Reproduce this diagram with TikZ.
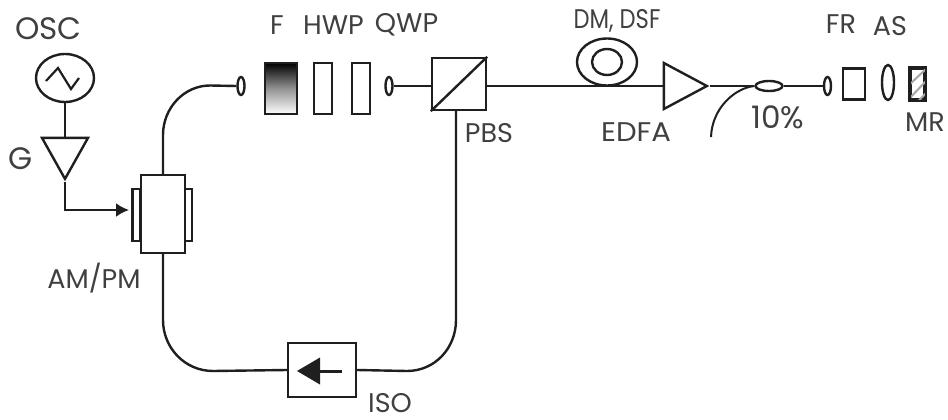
\documentclass[tikz,border=0pt]{standalone}
\usepackage{fontspec}
\usepackage{graphicx}
\setmainfont{Poppins}
\usetikzlibrary{shapes.geometric,arrows.meta}
\definecolor{ink}{gray}{0.12}
\definecolor{txt}{gray}{0.25}
\tikzset{
  x=1pt,y=-1pt,
  fibre/.style={draw=ink,line width=2.4pt},
  thinfibre/.style={draw=ink,line width=2pt},
  box/.style={draw=ink,rectangle,inner sep=0pt,line width=2.4pt,fill=white},
  oval/.style={draw=ink,ellipse,inner sep=0pt,line width=2.4pt,fill=white},
  endcap/.style={oval,minimum width=7pt,minimum height=18pt},
  amp/.style={draw=ink,isosceles triangle,isosceles triangle stretches,inner sep=0pt,line width=2.4pt},
  lab/.style={text=txt,font=\fontsize{27}{30}\selectfont,inner sep=0pt},
  biglab/.style={text=txt,font=\fontsize{31}{33}\selectfont,inner sep=0pt},
  tip/.style={-{Latex[length=13pt,width=14pt]}},
}
\begin{document}
\begin{tikzpicture}
\useasboundingbox[fill=white] (0,0) rectangle (948,420);
% named free points
\coordinate (aminput) at (129,210);
\coordinate (tapend) at (711,137);
\coordinate (amup) at (163,135);
\coordinate (amupb) at (210,85.5);
\coordinate (amdown) at (163,320);
\coordinate (isol) at (213,371);
\coordinate (isor) at (407,371);
\coordinate (pbsdown) at (456,320);
\coordinate (pbsfoot) at (456,110);
% nodes
\node[oval,minimum width=58pt,minimum height=48pt] (osc) at (65,78) {};
\node[amp,minimum width=46pt,minimum height=41pt,shape border rotate=-90,anchor=apex] (g) at (65,182) {};
\node[box,minimum width=8pt,minimum height=52pt] (plateL) at (136.5,215) {};
\node[box,minimum width=8pt,minimum height=52pt] (plateR) at (188,215) {};
\node[box,minimum width=44pt,minimum height=78pt] (am) at (163,214) {};
\node[endcap] (c1) at (241,86) {};
\node[box,minimum width=32pt,minimum height=51pt,top color=black,bottom color=white,middle color=gray!85] (f) at (281,88.5) {};
\node[box,minimum width=18pt,minimum height=51pt] (hwp) at (323,88.5) {};
\node[box,minimum width=18pt,minimum height=51pt] (qwp) at (361,88.5) {};
\node[endcap] (c2) at (389,86) {};
\node[box,minimum width=54pt,minimum height=52pt] (pbs) at (459,84) {};
\node[box,minimum width=68pt,minimum height=54pt] (iso) at (322,370) {};
\node[oval,minimum width=60pt,minimum height=47pt] (coil) at (607,62) {};
\node[oval,minimum width=30pt,minimum height=26pt] (coilin) at (607,62) {};
\node[amp,minimum width=46pt,minimum height=43pt,anchor=apex] (edfa) at (710,86) {};
\node[oval,minimum width=27pt,minimum height=10pt] (coup) at (769,86) {};
\node[endcap] (c3) at (827.5,86) {};
\node[box,minimum width=22pt,minimum height=31pt] (fr) at (854,84) {};
\node[oval,minimum width=12pt,minimum height=35pt] (as) at (888,82.5) {};
\node[box,minimum width=14pt,minimum height=31pt] (mr) at (917.5,84) {};
% connectors
\draw[fibre] (osc.south) -- (osc.south |- g.north);
\draw[fibre,tip] (g.apex) |- (aminput);
\draw[fibre] (am.north) -- (amup) .. controls (163,108) and (184,85.5) .. (amupb) -- (c1.west);
\draw[fibre] (am.south) -- (amdown) .. controls (163,348) and (185,371) .. (isol) -- (iso.west);
\draw[fibre] (iso.east) -- (isor) .. controls (435,371) and (456,348) .. (pbsdown) -- (pbsfoot);
\draw[fibre] (c2.east) -- (pbs.west |- c2.east);
\draw[fibre] (pbs.east |- c2.east) -- (edfa.west |- edfa.apex);
\draw[fibre] (edfa.apex) -- (coup.west);
\draw[fibre] (coup.east) -- (c3.west);
\draw[thinfibre] (coup.west) .. controls (735,88) and (712,108) .. (tapend);
% details inside the symbols
\draw[line width=2.2pt,draw=ink] (46,81) -- (58,68) -- (71,89) -- (79,78);
\draw[line width=2.4pt,draw=ink] (pbs.south west) -- (pbs.north east);
\begin{scope}
\clip (mr.south west) rectangle (mr.north east);
\draw[line width=2pt,draw=gray!70] (908,86) -- (927,68) (908,100) -- (927,80) (908,112) -- (927,92);
\end{scope}
\draw[draw=ink,line width=2.4pt] (mr.south west) rectangle (mr.north east);
\fill[ink] (297,371) -- (320,357.5) -- (320,384.5) -- cycle;
\draw[line width=3pt,draw=ink] (318,371) -- (342,371);
% labels
\node[biglab] (tosc) at (48.5,29) {OSC};
\node[biglab] (tg) at (21,159) {G};
\node[lab] (tam) at (94,278) {AM/PM};
\node[lab] (tf) at (277,25) {F};
\node[lab] (thwp) at (333.5,25) {HWP};
\node[lab] (tqwp) at (406.5,25) {QWP};
\node[lab] (tpbs) at (489,133) {PBS};
\node[lab] (tdm) at (617,21) {\scalebox{0.84}[1]{DM, DSF}};
\node[lab] (tfr) at (841,24) {FR};
\node[lab] (tas) at (890,26) {AS};
\node[lab] (tedfa) at (636,132) {\scalebox{1.08}[1]{EDFA}};
\node[biglab] (tten) at (778,117) {10\%};
\node[lab,anchor=west] (tmr) at (905,122) {MR};
\node[lab] (tiso) at (390,403) {ISO};
\end{tikzpicture}
\end{document}
